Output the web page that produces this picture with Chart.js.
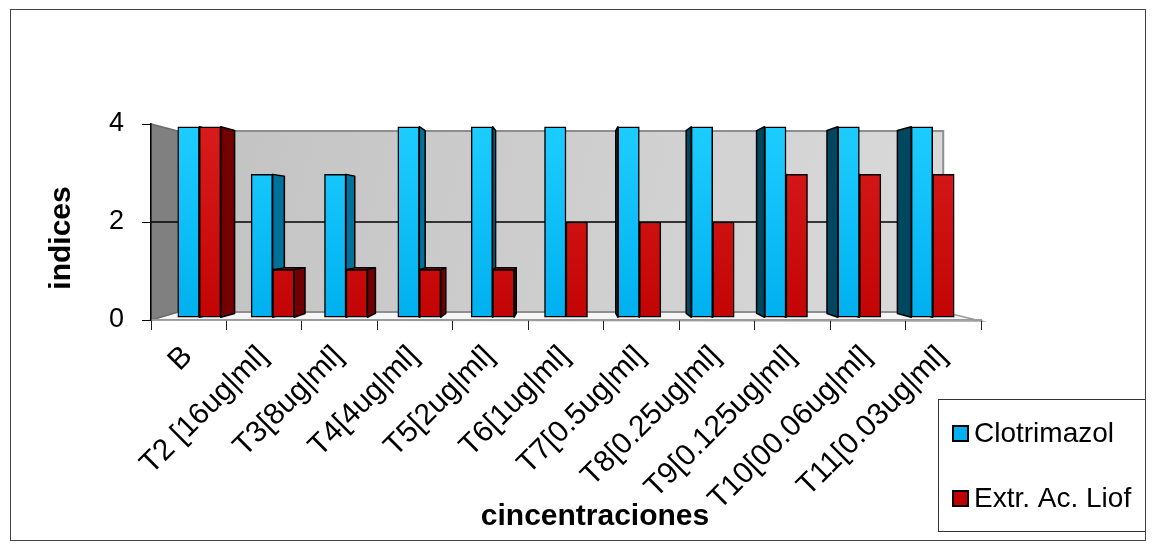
<!DOCTYPE html>
<html>
<head>
<meta charset="utf-8">
<script src="https://cdn.jsdelivr.net/npm/chart.js@4/dist/chart.umd.min.js"></script>
<style>
  html, body { margin: 0; padding: 0; background: #fff; }
  #wrap { width: 1156px; height: 551px; position: relative; }
</style>
</head>
<body>
<div id="wrap"><canvas id="c"></canvas></div>
<script>
// ---- data ----
const categories = ['B', 'T2 [16ug|ml]', 'T3[8ug|ml]', 'T4[4ug|ml]', 'T5[2ug|ml]', 'T6[1ug|ml]',
  'T7[0.5ug|ml]', 'T8[0.25ug|ml]', 'T9[0.125ug|ml]', 'T10[00.06ug|ml]', 'T11[0.03ug|ml]'];
const clotrimazol = [4, 3, 3, 4, 4, 4, 4, 4, 4, 4, 4];
const extracto    = [4, 1, 1, 1, 1, 2, 2, 2, 3, 3, 3];
const yTicks = [0, 2, 4];
const seriesNames = ['Clotrimazol', 'Extr. Ac. Liof'];
const xTitle = 'cincentraciones';
const yTitle = 'indices';

// ---- 3D look ----
const FRONT = 0.972;      // bar front faces sit slightly behind the frame
const BAR_DEPTH = 0.96;   // back of a bar relative to its front face
const WALL = { left: 0.935, right: 0.909, top: 0.929, bottom: 0.918 };
const FONT = '"Liberation Sans", Arial, Helvetica, sans-serif';

const yMin = yTicks[0], yMax = yTicks[yTicks.length - 1];
const yMid = (yMin + yMax) / 2, yHalf = (yMax - yMin) / 2;
const xMid = (categories.length - 1) / 2, xHalf = categories.length / 2;

function vanishing(chart) {
  const a = chart.chartArea;
  return { vx: (a.left + a.right) / 2, vy: chart.scales.y.getPixelForValue(yMid) };
}

function poly(ctx, pts, fill, stroke, lw) {
  ctx.beginPath();
  ctx.moveTo(pts[0][0], pts[0][1]);
  for (let i = 1; i < pts.length; i++) ctx.lineTo(pts[i][0], pts[i][1]);
  ctx.closePath();
  if (fill) { ctx.fillStyle = fill; ctx.fill(); }
  if (stroke) { ctx.strokeStyle = stroke; ctx.lineWidth = lw || 1; ctx.stroke(); }
}

function vGradient(chart, top, bottom) {
  const a = chart.chartArea;
  if (!a) return bottom;
  const g = chart.ctx.createLinearGradient(0, a.top, 0, a.bottom);
  g.addColorStop(0, top);
  g.addColorStop(1, bottom);
  return g;
}

const frame3d = {
  id: 'frame3d',
  beforeDraw(chart) {
    const ctx = chart.ctx, a = chart.chartArea;
    const { vx, vy } = vanishing(chart);
    ctx.save();
    ctx.fillStyle = '#fff';
    ctx.fillRect(0, 0, chart.width, chart.height);

    const x0 = vx + (a.left - vx) * WALL.left;
    const x1 = vx + (a.right - vx) * WALL.right;
    const y0 = vy + (a.top - vy) * WALL.top;
    const y1 = vy + (a.bottom - vy) * WALL.bottom;

    // floor
    poly(ctx, [[a.left, a.bottom], [a.right, a.bottom + 1], [x1, y1], [x0, y1]], '#f6f6f6', '#9a9a9a', 1.5);
    // back wall
    const g = ctx.createLinearGradient(x0, y0, x1, y1);
    g.addColorStop(0, '#c2c2c2');
    g.addColorStop(1, '#dadada');
    poly(ctx, [[x0, y0], [x1, y0], [x1, y1], [x0, y1]], g, '#8e8e8e', 2);
    // side wall
    poly(ctx, [[a.left, a.top], [x0, y0], [x0, y1], [a.left, a.bottom]], '#808080', '#6a6a6a', 1.5);

    // inner gridlines
    ctx.strokeStyle = '#000';
    ctx.lineWidth = 1.5;
    yTicks.slice(1, -1).forEach(v => {
      const py = chart.scales.y.getPixelForValue(v);
      const by = vy + (py - vy) * ((WALL.top + WALL.bottom) / 2);
      ctx.beginPath();
      ctx.moveTo(a.left, py);
      ctx.lineTo(x0, by);
      ctx.lineTo(x1, by);
      ctx.stroke();
    });
    ctx.restore();
  },
  beforeDatasetsDraw(chart) {
    const ctx = chart.ctx;
    const { vx, vy } = vanishing(chart);
    const back = (px, py) => [vx + (px - vx) * BAR_DEPTH, vy + (py - vy) * BAR_DEPTH];
    ctx.save();
    ctx.lineJoin = 'round';
    chart.data.datasets.forEach((ds, d) => {
      const meta = chart.getDatasetMeta(d);
      meta.data.forEach(el => {
        const { x, y, base, width } = el.getProps(['x', 'y', 'base', 'width'], true);
        const l = x - width / 2, r = x + width / 2;
        if (r < vx - 0.5) {
          poly(ctx, [[r, y], back(r, y), back(r, base), [r, base]], ds.sideRight, '#000', 1.5);
        }
        if (l > vx + 0.5) {
          poly(ctx, [[l, y], back(l, y), back(l, base), [l, base]], ds.sideLeft, '#000', 1.5);
        }
        if (y > vy + 1) {
          poly(ctx, [[l, y], [r, y], back(r, y), back(l, y)], ds.topColor, '#000', 1.2);
        }
      });
    });
    ctx.restore();
  },
  afterDraw(chart) {
    const ctx = chart.ctx;
    ctx.save();
    // axis titles
    ctx.fillStyle = '#000';
    ctx.font = 'bold 30px ' + FONT;
    ctx.textAlign = 'center';
    ctx.textBaseline = 'alphabetic';
    ctx.fillText(xTitle, 595, 525);
    ctx.save();
    ctx.translate(70, 238);
    ctx.rotate(-Math.PI / 2);
    ctx.fillText(yTitle, 0, 0);
    ctx.restore();

    // legend
    const lx = 938.5, ly = 399.5, lw = 207, lh = 132;
    ctx.fillStyle = '#fff';
    ctx.fillRect(lx, ly, lw, lh);
    ctx.strokeStyle = '#333';
    ctx.lineWidth = 1;
    ctx.strokeRect(lx, ly, lw, lh);
    ctx.font = '28px ' + FONT;
    ctx.textAlign = 'left';
    ctx.textBaseline = 'middle';
    const rows = [433, 498];
    chart.data.datasets.forEach((ds, i) => {
      const cy = rows[i];
      ctx.fillStyle = ds.swatch;
      ctx.fillRect(953, cy - 7, 15, 15);
      ctx.strokeStyle = '#000';
      ctx.lineWidth = 2;
      ctx.strokeRect(953, cy - 7, 15, 15);
      ctx.fillStyle = '#000';
      ctx.fillText(ds.label, 974, cy + 1);
    });

    // outer frame
    ctx.strokeStyle = '#444';
    ctx.lineWidth = 1;
    ctx.strokeRect(10.5, 9.5, 1135, 531);
    ctx.restore();
  }
};

const toPoints = arr => arr.map((v, i) => ({ x: i, y: v }));

new Chart(document.getElementById('c'), {
  type: 'bar',
  data: {
    labels: categories,
    datasets: [
      {
        label: seriesNames[0],
        data: toPoints(clotrimazol),
        xAxisID: 'xb', yAxisID: 'yb',
        backgroundColor: c => vGradient(c.chart, '#1ecdff', '#00b0ef'),
        swatch: '#00b0f0',
        sideRight: '#00719b', sideLeft: '#00475f', topColor: '#0096cc',
        borderColor: '#000', borderWidth: 1.5, borderSkipped: false,
        barThickness: 21.5
      },
      {
        label: seriesNames[1],
        data: toPoints(extracto),
        xAxisID: 'xb', yAxisID: 'yb',
        backgroundColor: c => vGradient(c.chart, '#d81c1c', '#c20404'),
        swatch: '#c00000',
        sideRight: '#720000', sideLeft: '#5a0000', topColor: '#8a0000',
        borderColor: '#000', borderWidth: 1.5, borderSkipped: false,
        barThickness: 21.5
      }
    ]
  },
  options: {
    responsive: true,
    maintainAspectRatio: false,
    animation: false,
    events: [],
    layout: { padding: { left: 12, top: 124, right: 175, bottom: 10 } },
    plugins: { legend: { display: false }, tooltip: { enabled: false } },
    scales: {
      xt: {
        type: 'category',
        position: 'bottom',
        labels: categories,
        offset: true,
        grid: { offset: true, drawOnChartArea: false, tickLength: 10, color: '#222', lineWidth: 1 },
        border: { display: true, color: '#9a9a9a', width: 1.5 },
        ticks: {
          autoSkip: false, minRotation: 45, maxRotation: 45,
          padding: 9, labelOffset: -1,
          color: '#000', font: { family: FONT, size: 30 }
        },
        afterFit: s => { s.height = 221; }
      },
      y: {
        type: 'linear',
        position: 'left',
        min: yMin, max: yMax,
        afterBuildTicks: s => { s.ticks = yTicks.map(v => ({ value: v })); },
        grid: { drawOnChartArea: false, tickLength: 9, color: '#000', lineWidth: 1 },
        border: { display: true, color: '#000', width: 1.5 },
        ticks: { padding: 18, color: '#000', font: { family: FONT, size: 27 } },
        afterFit: s => { s.width = 139; }
      },
      xb: {
        type: 'linear', display: false, offset: false,
        min: xMid - xHalf / FRONT, max: xMid + xHalf / FRONT
      },
      yb: {
        type: 'linear', display: false,
        min: yMid - yHalf / FRONT, max: yMid + yHalf / FRONT
      }
    }
  },
  plugins: [frame3d]
});
</script>
</body>
</html>
